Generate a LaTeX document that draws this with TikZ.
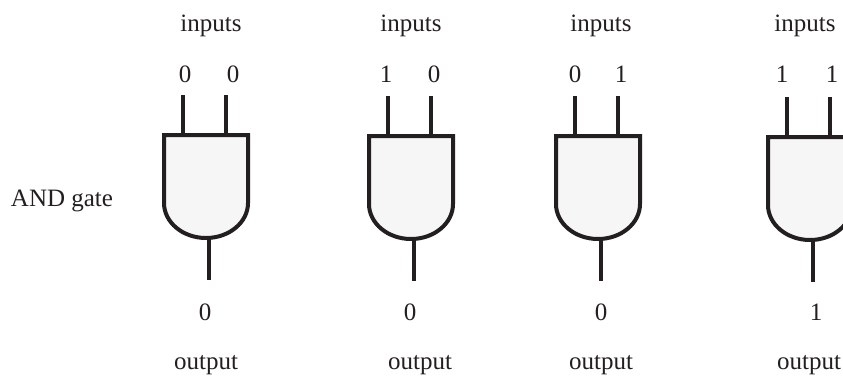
\documentclass[tikz,border=0pt]{standalone}
\usepackage{fontspec}
\setmainfont{Liberation Serif}
\usepackage{tikz}
\usetikzlibrary{positioning}
\definecolor{inkblack}{HTML}{231F20}
\definecolor{gatefill}{HTML}{F6F6F6}
\tikzset{
	lbl/.style={text=inkblack, inner sep=0pt, font=\fontsize{25}{30}\selectfont},
	wire/.style={draw=inkblack, line width=4pt},
	gatebody/.style={draw=inkblack, fill=gatefill, line width=4pt, line join=miter}
}
% #1 name, #2 left end of the top edge, #3 top edge
\newcommand{\Gt}[3]{
	\begin{scope}[shift={(#2,#3)}]
		\coordinate (#1i) at (19,-40);
		\coordinate (#1j) at (62,-40);
		\coordinate (#1a) at (19,0);
		\coordinate (#1b) at (62,0);
		\coordinate (#1c) at (45,103);
		\coordinate (#1o) at (45,145);
		\draw[gatebody] (0,0) -- (84,0) -- (84,68) arc[start angle=0, end angle=-180, x radius=42pt, y radius=35pt] -- cycle;
		\draw[wire] (#1i) -- (#1a);
		\draw[wire] (#1j) -- (#1b);
		\draw[wire] (#1c) -- (#1o);
	\end{scope}
}

\begin{document}
\begin{tikzpicture}[x=1pt, y=-1pt]
	\clip (0,0) rectangle (843,376);
	\node (T) [lbl] at (62,201) {AND gate};
	%
	\node (A) [lbl] at (211,26) {inputs};
	\node (A1) [lbl] at (185,74) {0};
	\node (A2) [lbl] at (233,74) {0};
	\Gt{P}{164}{135}
	\node (A3) [lbl] at (205,312) {0};
	\node (A4) [lbl] at (206,365) {output};
	%
	\node (B) [lbl] at (411,26) {inputs};
	\node (B1) [lbl] at (386,74) {1};
	\node (B2) [lbl] at (434,74) {0};
	\Gt{Q}{369}{136}
	\node (B3) [lbl] at (410,312) {0};
	\node (B4) [lbl] at (420,365) {output};
	%
	\node (C) [lbl] at (601,26) {inputs};
	\node (C1) [lbl] at (575,74) {0};
	\node (C2) [lbl] at (621,74) {1};
	\Gt{R}{556}{136}
	\node (C3) [lbl] at (601,312) {0};
	\node (C4) [lbl] at (601,365) {output};
	%
	\node (D) [lbl] at (805,26) {inputs};
	\node (D1) [lbl] at (782,74) {1};
	\node (D2) [lbl] at (832,74) {1};
	\Gt{S}{768}{137}
	\node (D3) [lbl] at (816,312) {1};
	\node (D4) [lbl] at (809,365) {output};
\end{tikzpicture}
\end{document}
